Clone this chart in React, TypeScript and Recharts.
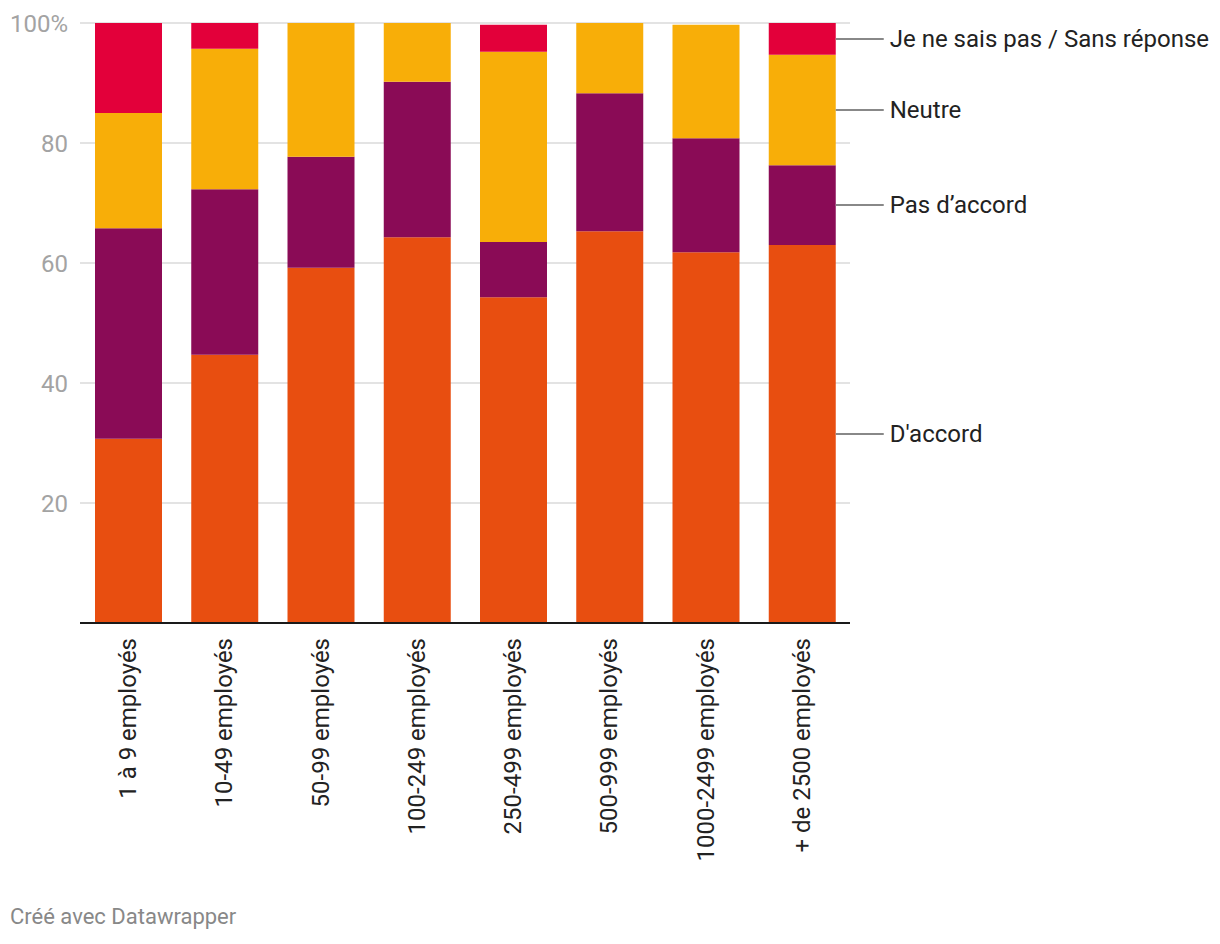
import React from "react";
import { BarChart, Bar, XAxis, YAxis, CartesianGrid, LabelList } from "recharts";

const categories = [
  "1 à 9 employés",
  "10-49 employés",
  "50-99 employés",
  "100-249 employés",
  "250-499 employés",
  "500-999 employés",
  "1000-2499 employés",
  "+ de 2500 employés",
];

const daccord = [30.7, 44.7, 59.2, 64.3, 54.3, 65.3, 61.8, 63.0];
const pasDaccord = [35.1, 27.6, 18.5, 25.9, 9.2, 23.0, 19.0, 13.3];
const neutre = [19.2, 23.4, 22.3, 9.8, 31.7, 11.7, 18.9, 18.4];
const sansReponse = [15.0, 4.3, 0, 0, 4.5, 0, 0, 5.3];

const yTicks = [0, 20, 40, 60, 80, 100];

const series = [
  { key: "daccord", name: "D'accord", color: "#e84e10" },
  { key: "pas", name: "Pas d\u2019accord", color: "#8a0b56" },
  { key: "neutre", name: "Neutre", color: "#f8ae08" },
  { key: "jnsp", name: "Je ne sais pas / Sans réponse", color: "#e3003a" },
];

const data = categories.map((cat, i) => ({
  cat,
  daccord: daccord[i],
  pas: pasDaccord[i],
  neutre: neutre[i],
  jnsp: sansReponse[i],
}));

const FONT = "Roboto, sans-serif";
const lastCat = categories[categories.length - 1];

function XTick({ x, y, payload }: any) {
  return (
    <g transform={`translate(${x},${y})`}>
      <text
        transform="rotate(-90)"
        x={-7}
        y={0}
        dy={8}
        textAnchor="end"
        fill="#222"
        fontSize={24}
        fontFamily={FONT}
      >
        {payload.value}
      </text>
    </g>
  );
}

function seriesLabel(name: string) {
  return (props: any) => {
    const { x, y, width, height, value } = props;
    if (value !== lastCat) return null;
    const x0 = Number(x) + Number(width);
    const ym = Number(y) + Number(height) / 2;
    return (
      <g>
        <line x1={x0} x2={x0 + 48} y1={ym} y2={ym} stroke="#888" strokeWidth={2} />
        <text x={x0 + 54} y={ym} dy={8} fill="#222" fontSize={24} fontFamily={FONT}>
          {name}
        </text>
      </g>
    );
  };
}

export default function App() {
  return (
    <div style={{ position: "absolute", left: 0, top: 0, width: 1220, height: 944, background: "#fff" }}>
      <BarChart
        width={1220}
        height={944}
        data={data}
        margin={{ top: 23, right: 370, left: 10, bottom: 121 }}
        barSize={67}
      >
        <CartesianGrid vertical={false} stroke="#e3e3e3" strokeWidth={2} />
        <XAxis
          dataKey="cat"
          interval={0}
          height={200}
          tick={<XTick />}
          tickLine={false}
          axisLine={{ stroke: "#1a1a1a", strokeWidth: 2 }}
        />
        <YAxis
          width={70}
          domain={[0, 100]}
          ticks={yTicks}
          tickFormatter={(v: number) => (v === 0 ? "" : v === 100 ? "100%" : String(v))}
          tick={{ fill: "#a3a3a3", fontSize: 24, fontFamily: FONT }}
          axisLine={false}
          tickLine={false}
          tickSize={0}
          tickMargin={12}
        />
        {series.map((s) => (
          <Bar key={s.key} dataKey={s.key} stackId="a" fill={s.color} isAnimationActive={false}>
            <LabelList dataKey="cat" content={seriesLabel(s.name)} />
          </Bar>
        ))}
      </BarChart>
      <div
        style={{
          position: "absolute",
          left: 10,
          top: 904,
          fontFamily: FONT,
          fontSize: 22,
          color: "#888",
        }}
      >
        Créé avec Datawrapper
      </div>
    </div>
  );
}
